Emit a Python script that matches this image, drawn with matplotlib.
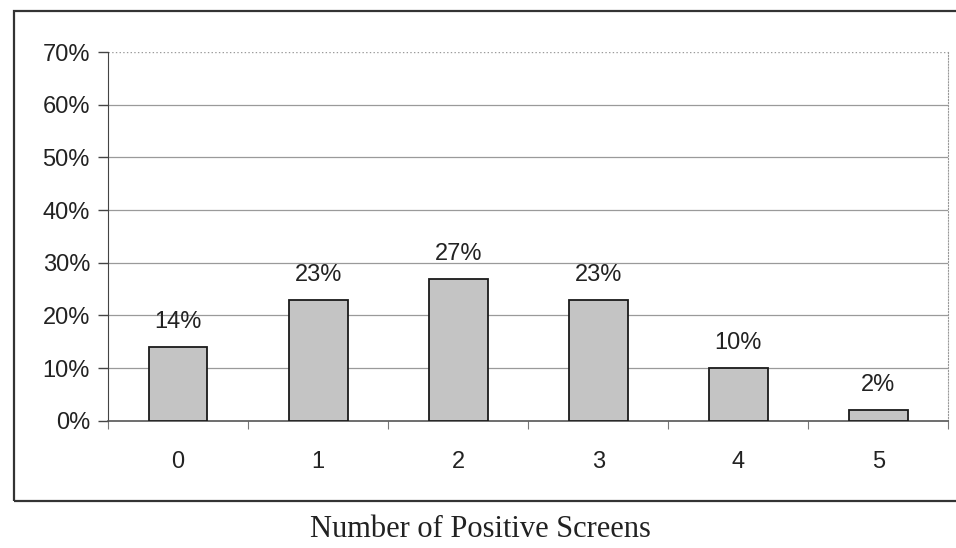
import numpy as np
import matplotlib.pyplot as plt
from matplotlib.patches import Rectangle

categories = ['0', '1', '2', '3', '4', '5']
values = [14, 23, 27, 23, 10, 2]
y_ticks = [0, 10, 20, 30, 40, 50, 60, 70]

plt.rcParams['font.family'] = ['Liberation Sans', 'DejaVu Sans']

fig = plt.figure(figsize=(9.56, 5.48), dpi=100)
ax = fig.add_axes([0.113, 0.232, 0.879, 0.673])

# outer chart border (right edge runs off the scan)
fig.add_artist(Rectangle((0.015, 0.085), 1.1, 0.895, transform=fig.transFigure,
                         fill=False, edgecolor='#333333', linewidth=1.6))

x = np.arange(len(categories))
bars = ax.bar(x, values, width=0.42, color='#c4c4c4', edgecolor='#1a1a1a', linewidth=1.3, zorder=3)
for b, v in zip(bars, values):
    ax.annotate(f'{v}%', (b.get_x() + b.get_width() / 2, v), xytext=(0, 10),
                textcoords='offset points', ha='center', va='bottom', fontsize=17, color='#222222')

ax.set_xlim(-0.5, len(categories) - 0.5)
ax.set_ylim(0, 70)
ax.set_yticks(y_ticks)
ax.set_yticklabels([f'{t}%' for t in y_ticks], fontsize=17, color='#222222')
ax.tick_params(axis='y', length=7, width=1, color='#444444', pad=6)

# ticks between categories, labels at centres
ax.set_xticks(np.arange(-0.5, len(categories), 1))
ax.set_xticklabels([])
ax.tick_params(axis='x', which='major', length=6, width=0.8, color='#777777')
ax.set_xticks(x, minor=True)
ax.set_xticklabels(categories, minor=True, fontsize=17, color='#222222')
ax.tick_params(axis='x', which='minor', length=0, pad=22)

for t in y_ticks[1:-1]:
    ax.axhline(t, color='#9a9a9a', linewidth=0.9, zorder=1)
ax.axhline(70, color='#9a9a9a', linewidth=1.0, linestyle=':', zorder=1)

ax.spines['top'].set_visible(False)
ax.spines['right'].set_linestyle(':')
ax.spines['right'].set_color('#999999')
ax.spines['left'].set_color('#444444')
ax.spines['bottom'].set_color('#555555')
ax.spines['bottom'].set_linewidth(1.2)

fig.text(0.503, 0.033, 'Number of Positive Screens', ha='center', va='center',
         fontsize=22, family=['Liberation Serif', 'DejaVu Serif'], color='#222222')

fig.savefig('out.png', dpi=100)
